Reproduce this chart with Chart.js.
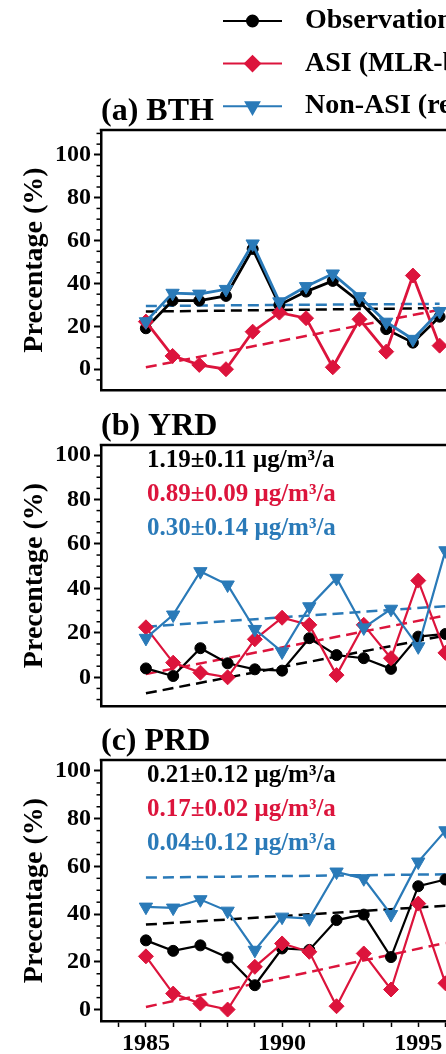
<!DOCTYPE html>
<html>
<head>
<meta charset="utf-8">
<script src="https://cdn.jsdelivr.net/npm/chart.js@4.4.1/dist/chart.umd.min.js"></script>
<style>
  html, body { margin: 0; padding: 0; background: #fff; overflow: hidden; }
  body { width: 446px; height: 1054px; position: relative; }
  canvas { position: absolute; left: 0; }
</style>
</head>
<body>
<canvas id="panel-bth" width="620" height="400" style="top:0px"></canvas>
<canvas id="panel-yrd" width="620" height="316" style="top:400px"></canvas>
<canvas id="panel-prd" width="620" height="338" style="top:716px"></canvas>
<script>
// years shown (the figure is cropped a little after 1995)
const years = [1985, 1986, 1987, 1988, 1989, 1990, 1991, 1992, 1993, 1994, 1995, 1996];
const trendYears = [1985, 1996];

const seriesNames = ["Observation", "ASI (MLR-based)", "Non-ASI (residual)"];

// (a) BTH, percentage (%)
const obsBTH = [19.1, 32.0, 32.0, 34.2, 56.1, 30.0, 36.2, 41.2, 31.5, 18.7, 12.4, 24.5];
const asiBTH = [22.2, 6.2, 2.0, 0.0, 17.5, 26.4, 23.8, 0.9, 23.3, 8.2, 43.7, 11.0];
const nonAsiBTH = [22.2, 35.5, 35.1, 37.3, 58.5, 31.5, 38.6, 44.5, 33.9, 22.0, 14.0, 27.0];
const trendObsBTH = [26.9, 28.5];
const trendAsiBTH = [0.9, 27.7];
const trendNonAsiBTH = [29.5, 30.5];

// (b) YRD
const obsYRD = [4.0, 0.6, 13.1, 6.3, 3.6, 3.0, 17.6, 10.0, 8.6, 3.8, 18.3, 19.5];
const asiYRD = [22.5, 6.6, 2.1, 0.0, 17.1, 26.8, 23.6, 1.0, 23.6, 8.6, 43.5, 11.0];
const nonAsiYRD = [17.6, 28.1, 47.6, 41.6, 21.6, 11.5, 31.8, 44.6, 22.3, 30.7, 13.8, 57.0];
const trendObsYRD = [-7.2, 18.8];
const trendAsiYRD = [1.5, 27.8];
const trendNonAsiYRD = [22.8, 32.0];
const ratesYRD = ["1.19\u00b10.11 \u03bcg/m\u00b3/a", "0.89\u00b10.09 \u03bcg/m\u00b3/a", "0.30\u00b10.14 \u03bcg/m\u00b3/a"];

// (c) PRD
const obsPRD = [29.0, 24.6, 26.9, 21.8, 10.2, 25.6, 25.0, 37.5, 39.8, 22.0, 51.7, 54.5];
const asiPRD = [22.3, 6.7, 2.5, 0.0, 17.9, 27.7, 24.2, 1.4, 23.5, 8.4, 44.4, 11.0];
const nonAsiPRD = [43.0, 42.6, 46.1, 41.3, 24.9, 38.8, 38.1, 57.7, 54.9, 39.9, 61.9, 75.0];
const trendObsPRD = [35.6, 43.5];
const trendAsiPRD = [1.1, 27.9];
const trendNonAsiPRD = [55.3, 56.7];
const ratesPRD = ["0.21\u00b10.12 \u03bcg/m\u00b3/a", "0.17\u00b10.02 \u03bcg/m\u00b3/a", "0.04\u00b10.12 \u03bcg/m\u00b3/a"];

const palette = ["#000000", "#DC143C", "#2A7AB8"];
const serif = '"Liberation Serif", "Times New Roman", serif';

Chart.defaults.font.family = serif;
Chart.defaults.color = "#000";

// top frame line + short minor ticks on the y axis
const frameAndTicks = {
  id: "frameAndTicks",
  afterDraw(chart) {
    const { ctx, chartArea, scales } = chart;
    ctx.save();
    ctx.strokeStyle = "#000";
    ctx.lineWidth = 2.5;
    ctx.beginPath();
    ctx.moveTo(chartArea.left - 1.25, chartArea.top);
    ctx.lineTo(chartArea.right, chartArea.top);
    ctx.stroke();
    ctx.lineWidth = 1.5;
    scales.y.ticks.forEach((t) => {
      if (t.value % 20 === 0) return;
      const py = scales.y.getPixelForValue(t.value);
      ctx.beginPath();
      ctx.moveTo(chartArea.left - 4.5, py);
      ctx.lineTo(chartArea.left, py);
      ctx.stroke();
    });
    ctx.restore();
  },
};

// legend stacked in rows, drawn from the dataset styles
const stackedLegend = {
  id: "stackedLegend",
  afterDraw(chart, args, opts) {
    const { ctx } = chart;
    ctx.save();
    chart.data.datasets.slice(0, 3).forEach((ds, i) => {
      const y = opts.top + i * opts.rowGap;
      const x0 = opts.left;
      ctx.strokeStyle = ds.borderColor;
      ctx.fillStyle = ds.backgroundColor;
      ctx.lineWidth = 2;
      ctx.beginPath();
      ctx.moveTo(x0, y);
      ctx.lineTo(x0 + opts.lineLength, y);
      ctx.stroke();
      Chart.helpers.drawPoint(ctx, {
        pointStyle: ds.pointStyle,
        rotation: ds.pointRotation || 0,
        radius: ds.pointRadius,
        borderWidth: 1,
      }, x0 + opts.lineLength / 2, y);
      ctx.fillStyle = "#000";
      ctx.font = "bold 28px " + serif;
      ctx.textBaseline = "middle";
      ctx.textAlign = "left";
      ctx.fillText(ds.label, x0 + opts.lineLength + opts.textGap, y);
    });
    ctx.restore();
  },
};

// trend rate labels in the upper left of a panel
const rateText = {
  id: "rateText",
  afterDraw(chart, args, opts) {
    const { ctx, chartArea } = chart;
    ctx.save();
    ctx.font = "bold 25px " + serif;
    ctx.textBaseline = "middle";
    ctx.textAlign = "left";
    opts.lines.forEach((line, i) => {
      ctx.fillStyle = palette[i];
      ctx.fillText(line, chartArea.left + opts.dx, chartArea.top + opts.dy + i * opts.gap);
    });
    ctx.restore();
  },
};

function pts(vals, xs) {
  return xs.map((yr, i) => ({ x: yr, y: vals[i] }));
}

function buildPanel(id, s, view) {
  const lineDs = (label, vals, color, style, radius, rotation, order) => ({
    label: label,
    data: pts(vals, years),
    borderColor: color,
    backgroundColor: color,
    borderWidth: view.lineWidth,
    pointStyle: style,
    pointRadius: radius,
    pointRotation: rotation,
    pointBorderWidth: 1,
    tension: 0,
    order: order,
  });
  const trendDs = (vals, color) => ({
    label: "trend",
    data: pts(vals, trendYears),
    borderColor: color,
    borderWidth: 2.5,
    borderDash: [11, 6],
    pointRadius: 0,
    tension: 0,
    order: 5,
  });

  const datasets = [
    lineDs(seriesNames[0], s.obs, palette[0], "circle", 5.5, 0, 3),
    lineDs(seriesNames[1], s.asi, palette[1], "rectRot", 7.5, 0, 2),
    lineDs(seriesNames[2], s.nonAsi, palette[2], "triangle", 7.7, 180, 1),
    trendDs(s.trendObs, palette[0]),
    trendDs(s.trendAsi, palette[1]),
    trendDs(s.trendNonAsi, palette[2]),
  ];

  const plugins = [frameAndTicks];
  if (view.legend) plugins.push(stackedLegend);
  if (view.rates) plugins.push(rateText);

  return new Chart(document.getElementById(id), {
    type: "line",
    data: { datasets: datasets },
    plugins: plugins,
    options: {
      responsive: false,
      animation: false,
      layout: { padding: { top: view.padTop, right: 0, bottom: 0, left: 0 } },
      plugins: {
        legend: { display: false },
        tooltip: { enabled: false },
        title: {
          display: true,
          text: view.title,
          align: "start",
          fullSize: false,
          font: { size: 32, weight: "bold", lineHeight: 1 },
          padding: { top: 0, bottom: 2 },
          color: "#000",
        },
        stackedLegend: view.legend || {},
        rateText: view.rates ? { lines: view.rates, dx: 46, dy: 16, gap: 34 } : {},
      },
      scales: {
        x: {
          type: "linear",
          min: view.xMin,
          max: view.xMax,
          afterFit(scale) {
            scale.height = view.xAxisHeight;
            scale.paddingLeft = 0;
            scale.paddingRight = 0;
          },
          border: { display: true, color: "#000", width: 2.5 },
          grid: {
            drawOnChartArea: false,
            drawTicks: view.xLabels,
            tickLength: 6,
            tickWidth: 1.5,
            tickColor: "#000",
          },
          ticks: {
            display: view.xLabels,
            stepSize: 1,
            includeBounds: false,
            autoSkip: false,
            maxRotation: 0,
            padding: 2,
            font: { size: 24, weight: "bold" },
            callback: (v) => (v % 5 === 0 ? String(v) : ""),
          },
        },
        y: {
          min: view.yMin,
          max: view.yMax,
          afterFit(scale) {
            scale.width = 101;
            scale.paddingTop = 0;
            scale.paddingBottom = 0;
          },
          border: { display: true, color: "#000", width: 2.5 },
          grid: {
            drawOnChartArea: false,
            drawTicks: true,
            tickLength: 7,
            tickWidth: 2,
            tickColor: (ctx) => (ctx.tick && ctx.tick.value % 20 === 0 ? "#000" : "rgba(0,0,0,0)"),
          },
          ticks: {
            stepSize: 5,
            includeBounds: false,
            autoSkip: false,
            padding: 3,
            font: { size: 24, weight: "bold" },
            callback: (v) => (v % 20 === 0 ? String(v) : ""),
          },
          title: {
            display: true,
            text: "Precentage (%)",
            font: { size: 28, weight: "bold" },
            padding: { top: 18, bottom: 0 },
            color: "#000",
          },
        },
      },
    },
  });
}

buildPanel("panel-bth", {
  obs: obsBTH, asi: asiBTH, nonAsi: nonAsiBTH,
  trendObs: trendObsBTH, trendAsi: trendAsiBTH, trendNonAsi: trendNonAsiBTH,
}, {
  title: "(a) BTH", padTop: 96, xAxisHeight: 10, xLabels: false, lineWidth: 2.8,
  xMin: 1983.32, xMax: 2002.43, yMin: -9.7, yMax: 111.6,
  legend: { left: 223, top: 21, rowGap: 42.6, lineLength: 59, textGap: 23 },
});

buildPanel("panel-yrd", {
  obs: obsYRD, asi: asiYRD, nonAsi: nonAsiYRD,
  trendObs: trendObsYRD, trendAsi: trendAsiYRD, trendNonAsi: trendNonAsiYRD,
}, {
  title: "(b) YRD", padTop: 11, xAxisHeight: 10, xLabels: false, lineWidth: 2.2,
  xMin: 1983.35, xMax: 2002.09, yMin: -12.9, yMax: 104.5,
  rates: ratesYRD,
});

buildPanel("panel-prd", {
  obs: obsPRD, asi: asiPRD, nonAsi: nonAsiPRD,
  trendObs: trendObsPRD, trendAsi: trendAsiPRD, trendNonAsi: trendNonAsiPRD,
}, {
  title: "(c) PRD", padTop: 10, xAxisHeight: 33, xLabels: true, lineWidth: 2.2,
  xMin: 1983.35, xMax: 2002.09, yMin: -4.8, yMax: 104.6,
  rates: ratesPRD,
});
</script>
</body>
</html>
